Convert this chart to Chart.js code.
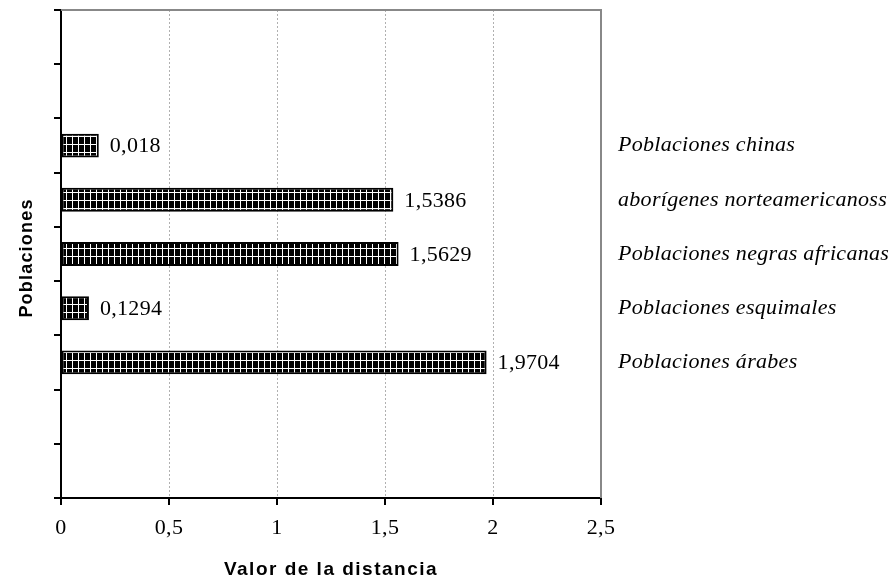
<!DOCTYPE html>
<html>
<head>
<meta charset="utf-8">
<script src="https://cdn.jsdelivr.net/npm/chart.js@4"></script>
<style>
  html, body { margin: 0; padding: 0; background: #fff; }
  #wrap { width: 895px; height: 582px; }
</style>
</head>
<body>
<div id="wrap"><canvas id="distChart"></canvas></div>
<script>
// categories top to bottom (empty slots kept as in the original)
const categories = ["", " ", "Poblaciones chinas", "aborígenes norteamericanoss", "Poblaciones negras africanas", "Poblaciones esquimales", "Poblaciones árabes", "  ", "   "];
// bar lengths as drawn
const values = [null, null, 0.175, 1.5386, 1.5629, 0.1294, 1.9704, null, null];
// text written next to each bar
const valueLabels = ["", "", "0,018", "1,5386", "1,5629", "0,1294", "1,9704", "", ""];
const xTicks = [0, 0.5, 1, 1.5, 2, 2.5];
const xTitle = "Valor de la distancia";
const yTitle = "Poblaciones";

const serif = "'Liberation Serif', 'Times New Roman', serif";
const sans = "'Liberation Sans', Arial, sans-serif";

// black bars with a white grid hatch
function makePattern() {
    let c = document.createElement("canvas");
    c.width = 6; c.height = 8;
    let p = c.getContext("2d");
    p.fillStyle = "#000";
    p.fillRect(0, 0, 6, 8);
    p.fillStyle = "#fff";
    p.fillRect(0, 0, 1, 8);
    p.fillRect(0, 0, 6, 1);
    return p.createPattern(c, "repeat");
}

const extras = {
    id: "extras",
    beforeDraw(chart) {
        chart.ctx.letterSpacing = "0.3px";
    },
    afterDraw(chart) {
        const ctx = chart.ctx;
        const a = chart.chartArea;
        const xs = chart.scales.x;
        ctx.save();
        // gray frame top/right
        ctx.strokeStyle = "#888";
        ctx.lineWidth = 2;
        ctx.beginPath();
        ctx.moveTo(a.left, a.top);
        ctx.lineTo(a.right, a.top);
        ctx.lineTo(a.right, a.bottom);
        ctx.stroke();
        // x tick marks
        ctx.strokeStyle = "#000";
        ctx.lineWidth = 2;
        xs.ticks.forEach(t => {
            const px = xs.getPixelForValue(t.value);
            ctx.beginPath();
            ctx.moveTo(px, a.bottom);
            ctx.lineTo(px, a.bottom + 7);
            ctx.stroke();
        });
        // value labels
        ctx.fillStyle = "#000";
        ctx.letterSpacing = "0.3px";
        ctx.font = "22px " + serif;
        ctx.textBaseline = "middle";
        ctx.textAlign = "left";
        chart.getDatasetMeta(0).data.forEach((bar, i) => {
            if (values[i] == null) return;
            ctx.fillText(valueLabels[i], bar.x + 11, bar.y + 1);
        });
        // axis titles (spaced out like the original)
        ctx.letterSpacing = "1.5px";
        ctx.font = "bold 19px " + sans;
        ctx.textAlign = "center";
        ctx.fillText(xTitle, (a.left + a.right) / 2, 570);
        ctx.letterSpacing = "1.2px";
        ctx.font = "bold 18px " + sans;
        ctx.translate(27, (a.top + a.bottom) / 2 + 4);
        ctx.rotate(-Math.PI / 2);
        ctx.fillText(yTitle, 0, 0);
        ctx.restore();
    }
};

document.addEventListener("DOMContentLoaded", function () {
    let ctx = document.getElementById("distChart").getContext("2d");

    new Chart(ctx, {
        type: "bar",
        data: {
            labels: categories,
            datasets: [{
                data: values,
                backgroundColor: makePattern(),
                borderColor: "#000",
                borderWidth: 2,
                borderSkipped: false,
                categoryPercentage: 1,
                barPercentage: 0.44
            }]
        },
        options: {
            indexAxis: "y",
            responsive: true,
            maintainAspectRatio: false,
            animation: false,
            layout: { padding: { top: 10, left: 0, right: 0, bottom: 0 } },
            plugins: {
                legend: { display: false },
                tooltip: { enabled: false }
            },
            scales: {
                x: {
                    type: "linear",
                    min: 0,
                    max: 2.5,
                    afterBuildTicks: s => { s.ticks = xTicks.map(v => ({ value: v })); },
                    afterFit: s => { s.height = 84; s.paddingLeft = 0; s.paddingRight = 0; },
                    grid: {
                        color: "#b0b0b0",
                        lineWidth: 1,
                        drawTicks: false
                    },
                    border: { display: true, color: "#000", width: 2, dash: [2, 2] },
                    ticks: {
                        color: "#000",
                        padding: 17,
                        font: { family: serif, size: 22 },
                        callback: v => String(v).replace(".", ",")
                    }
                },
                y: {
                    type: "category",
                    position: "left",
                    offset: true,
                    afterFit: s => { s.width = 61; s.paddingTop = 0; s.paddingBottom = 0; },
                    grid: {
                        display: true,
                        offset: true,
                        drawOnChartArea: false,
                        drawTicks: true,
                        tickLength: 7,
                        color: "#000",
                        lineWidth: 2
                    },
                    border: { display: true, color: "#000", width: 2 },
                    ticks: { display: false }
                },
                y2: {
                    type: "category",
                    position: "right",
                    labels: categories,
                    offset: true,
                    afterFit: s => { s.width = 294; s.paddingTop = 0; s.paddingBottom = 0; },
                    grid: { display: false, drawTicks: false, tickLength: 0 },
                    border: { display: false },
                    ticks: {
                        color: "#000",
                        padding: 17,
                        autoSkip: false,
                        font: { family: serif, size: 22, style: "italic" }
                    }
                }
            }
        },
        plugins: [extras]
    });
});
</script>
</body>
</html>
